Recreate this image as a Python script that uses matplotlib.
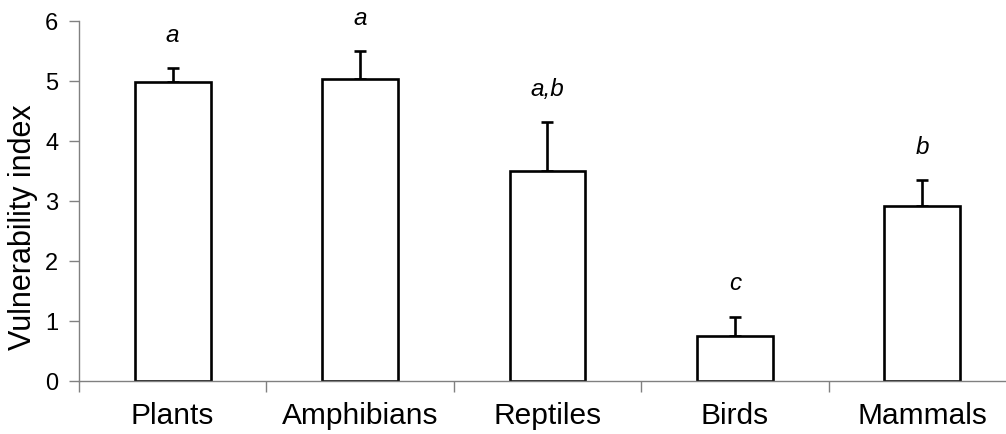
import numpy as np
import matplotlib
matplotlib.use("Agg")
import matplotlib.pyplot as plt

# values
groups = ["Plants", "Amphibians", "Reptiles", "Birds", "Mammals"]
means = [4.98, 5.04, 3.50, 0.75, 2.92]
errors = [0.23, 0.46, 0.81, 0.32, 0.43]
letters = ["a", "a", "a,b", "c", "b"]

plt.rcParams['font.family'] = ['Liberation Sans', 'DejaVu Sans']

fig = plt.figure(figsize=(10.06, 4.34), dpi=100)
ax = fig.add_axes([0.0785, 0.1221, 0.9314, 0.8295])

x = np.arange(len(groups))
ax.bar(x, means, width=0.405, color='white', edgecolor='black', linewidth=1.9, zorder=2)
ax.errorbar(x, means, yerr=[np.zeros(len(means)), errors], fmt='none',
            ecolor='black', elinewidth=1.9, capsize=4.5, capthick=1.9, zorder=1)

# significance letters above the error bars
for xi, m, e, lab in zip(x, means, errors, letters):
    ax.text(xi, m + e + 0.55, lab, ha='center', va='center',
            fontsize=17.5, style='italic')

ax.set_xlim(-0.5, len(groups) - 0.5)
ax.set_ylim(0, 6)
ax.set_yticks(range(0, 7))
ax.set_ylabel('Vulnerability index', fontsize=22)
ax.yaxis.set_label_coords(-0.044, 0.428)

# boundary ticks on the x axis, labels at bar centres
ax.set_xticks(np.arange(-0.5, len(groups), 1.0))
ax.set_xticklabels([])
ax.set_xticks(x, minor=True)
ax.set_xticklabels(groups, minor=True, fontsize=21.5)
ax.tick_params(axis='x', which='minor', length=0, pad=15)
ax.tick_params(axis='x', which='major', length=8, color='#808080', width=1)
ax.tick_params(axis='y', labelsize=17, length=7, color='#808080', width=1, pad=8)

for side in ['top', 'right']:
    ax.spines[side].set_visible(False)
for side in ['left', 'bottom']:
    ax.spines[side].set_color('#808080')
    ax.spines[side].set_linewidth(1)

fig.savefig('out.png', dpi=100)
